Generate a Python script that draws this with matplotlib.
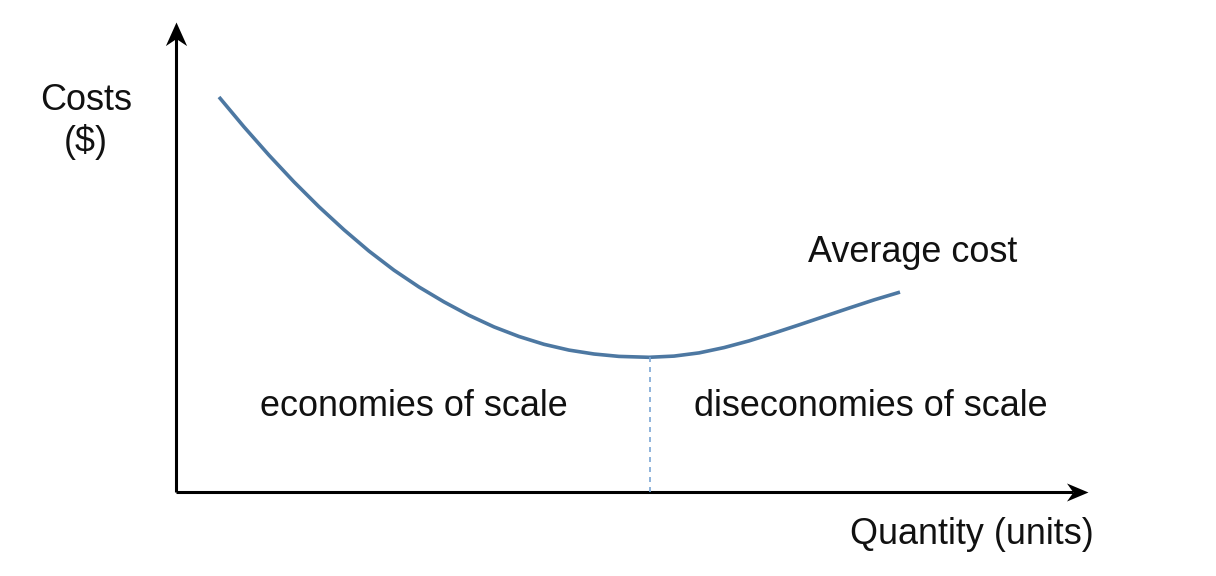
import matplotlib.pyplot as plt
from matplotlib.path import Path

plt.rcParams["font.family"] = ["Liberation Sans", "DejaVu Sans"]

# average cost curve (quantity units, cost units)
quantity = [4.3, 6.8, 9.3, 11.8, 14.3, 16.8, 19.3, 21.8, 24.3, 26.8, 29.3, 31.8,
            34.3, 36.8, 39.3, 41.8, 44.3, 47.3, 49.8, 52.3, 54.8, 57.3, 59.8,
            62.3, 64.8, 67.3, 69.8, 72.4]
avg_cost = [39.5, 36.51, 33.68, 31.01, 28.52, 26.22, 24.09, 22.18, 20.50, 19.01,
            17.67, 16.51, 15.55, 14.77, 14.19, 13.80, 13.56, 13.47, 13.59, 13.91,
            14.44, 15.11, 15.89, 16.71, 17.55, 18.39, 19.21, 19.99]

# quantity where average cost bottoms out
q_min = 47.4
c_min = min(avg_cost)

x_end, y_end = 91.2, 47.0

fig = plt.figure(figsize=(12.16, 5.76), dpi=100)
ax = fig.add_axes([0, 0, 1, 1])
ax.set_xlim(-17.6, 104.0)
ax.set_ylim(-8.4, 49.2)
ax.axis("off")

# axis lines, ending under the arrow heads
ax.plot([0, x_end - 1.5], [0, 0], color="black", lw=2.2, solid_capstyle="butt")
ax.plot([0, 0], [0, y_end - 1.5], color="black", lw=2.2, solid_capstyle="butt")

# concave arrow heads, tip at the marker position
up_head = Path([(0, 0), (-0.45, -1), (0, -0.7), (0.45, -1), (0, 0)],
               [Path.MOVETO, Path.LINETO, Path.LINETO, Path.LINETO, Path.CLOSEPOLY])
right_head = Path([(0, 0), (-1, 0.42), (-0.7, 0), (-1, -0.42), (0, 0)],
                  [Path.MOVETO, Path.LINETO, Path.LINETO, Path.LINETO, Path.CLOSEPOLY])
ax.plot([0], [y_end], marker=up_head, ms=34, color="black", mew=0)
ax.plot([x_end], [0], marker=right_head, ms=31, color="black", mew=0)

ax.plot(quantity, avg_cost, color="#4d78a2", lw=2.6, solid_capstyle="butt",
        solid_joinstyle="round")
ax.plot([q_min, q_min], [0, c_min], color="#7aa6d4", lw=1.2, ls=(0, (3, 3)))

fs = 25.9
ax.text(-9.0, 37.05, "Costs\n($)", ha="center", va="center", fontsize=fs,
        linespacing=1.25, color="#111111")
ax.text(23.8, 8.6, "economies of scale", ha="center", va="center", fontsize=fs,
        color="#111111")
ax.text(69.5, 8.6, "diseconomies of scale", ha="center", va="center", fontsize=fs,
        color="#111111")
ax.text(73.7, 23.9, "Average cost", ha="center", va="center", fontsize=fs,
        color="#111111")
ax.text(79.6, -4.2, "Quantity (units)", ha="center", va="center", fontsize=fs,
        color="#111111")

fig.savefig("out.png", dpi=100)
